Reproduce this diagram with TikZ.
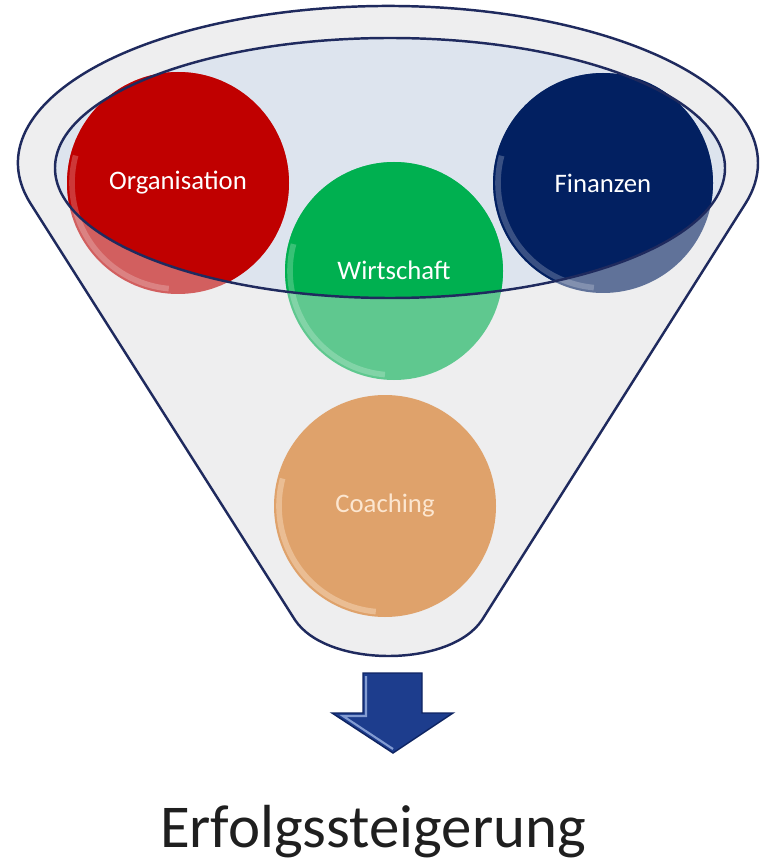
\documentclass[tikz,border=0pt]{standalone}
\usepackage{fontspec}
\setmainfont{Carlito}
\definecolor{funline}{HTML}{1F2A5E}
\definecolor{funbody}{HTML}{EEEEEF}
\definecolor{funinner}{HTML}{DDE4EE}
\definecolor{cred}{HTML}{C00000}
\definecolor{cnavy}{HTML}{022061}
\definecolor{cgreen}{HTML}{00B050}
\definecolor{corange}{HTML}{DFA26B}
\definecolor{arrowblue}{HTML}{1D3D8D}
\definecolor{arrowdark}{HTML}{0E2462}
\definecolor{arrowlight}{HTML}{9DB4E4}
\definecolor{coachtext}{HTML}{FCE6D0}
\begin{document}
\begin{tikzpicture}[x=0.01cm,y=-0.01cm,
  rim/.style={draw=funline, line width=0.7pt},
  ball/.style={circle, minimum size=2.2cm, inner sep=0pt,
    font=\fontsize{7.6}{9}\selectfont, text=white},
  faded/.style={fill opacity=0.6},
  shine/.style={draw=white, draw opacity=0.22, line width=1.6pt},
]
\useasboundingbox (0,0) rectangle (767,861);

% funnel body
\path[fill=funbody, rim]
  (388,163) ++(165:370 and 157)
  arc[start angle=165, end angle=375, x radius=370, y radius=157]
  -- (482,620) .. controls (450,668) and (327,668) .. (295,620) -- cycle;

% opening of the funnel
\fill[funinner] (390,168) ellipse[x radius=335, y radius=130];

% faded lower parts of the balls
\fill[cred, faded] (178,183) circle[radius=111];
\fill[cnavy, faded] (603,183) circle[radius=110];
\fill[cgreen, faded] (394,271) circle[radius=109];

% opaque parts inside the opening
\begin{scope}
  \clip (0,0) -- (767,0) -- (767,168) -- (725,168)
    arc[start angle=0, end angle=180, x radius=335, y radius=130]
    -- (0,168) -- cycle;
  \fill[cred] (178,183) circle[radius=111];
  \fill[cnavy] (603,183) circle[radius=110];
  \fill[cgreen] (394,271) circle[radius=109];
\end{scope}
\fill[corange] (385,506) circle[radius=111];

% soft rim highlights (lower left bevel)
\draw[shine] (178,183) ++(95:106) arc[start angle=95, end angle=195, radius=106];
\draw[shine] (603,183) ++(95:105) arc[start angle=95, end angle=195, radius=105];
\draw[shine] (394,271) ++(95:104) arc[start angle=95, end angle=195, radius=104];
\draw[shine, draw=coachtext, draw opacity=0.4] (385,506) ++(95:106) arc[start angle=95, end angle=195, radius=106];

% labels
\node[ball] (org) at (178,183) {Organisation};
\node[ball] (fin) at (603,183) {Finanzen};
\node[ball] (wir) at (394,270) {Wirtschaft};
\node[ball, text=coachtext] (coa) at (385,506) {Coaching};

% rim of the opening, over the balls
\draw[rim] (390,168) ellipse[x radius=335, y radius=130];

% arrow
\path[fill=arrowblue, draw=arrowdark, line width=0.4pt, line join=miter]
  (363,673) -- (422,673) -- (422,713) -- (453,713) -- (393,753)
  -- (332,713) -- (363,713) -- cycle;
\draw[arrowlight, line width=0.6pt, opacity=0.8] (366,676) -- (366,716) -- (343,716) -- (393,749);

% result text
\node[anchor=base, font=\fontsize{17.3}{20}\selectfont, text=black!88] (res) at (373,847) {Erfolgssteigerung};
\end{tikzpicture}
\end{document}
